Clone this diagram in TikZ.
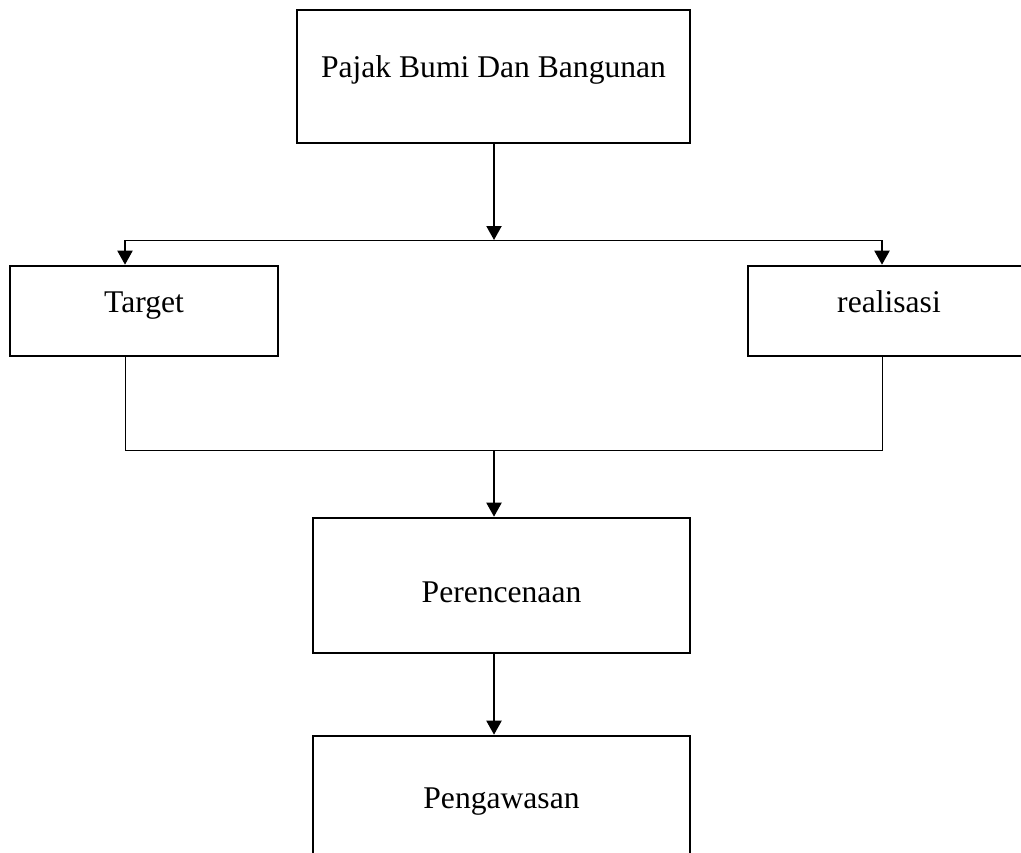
\documentclass[tikz,border=0pt]{standalone}
\usepackage{fontspec}
\setmainfont{Liberation Serif}
\usetikzlibrary{arrows.meta}

\begin{document}
\begin{tikzpicture}[x=0.5pt, y=-0.5pt,
    box/.style={draw, line width=1.3pt, inner sep=0pt, text height=11pt,
        font=\fontsize{15.8}{19}\selectfont},
    arr/.style={line width=1pt, -{Triangle[length=7pt, width=7.5pt]}},
    link/.style={line width=0.5pt}]
    \useasboundingbox (0,0) rectangle (1021,852);
    \clip (0,0) rectangle (1021,852);

    % Boxes
    \node[box, minimum width=196.5pt, minimum height=66.5pt, text depth=10.5pt]
        (pbb) at (493.5,76.5) {Pajak Bumi Dan Bangunan};
    \node[box, minimum width=134pt, minimum height=45pt, text depth=10pt]
        (target) at (144,311) {Target};
    \node[box, minimum width=141pt, minimum height=45pt, text depth=10pt]
        (realisasi) at (889,311) {realisasi};
    \node[box, minimum width=188.5pt, minimum height=67.5pt, text height=16.5pt, text depth=0pt]
        (perencanaan) at (501.5,585.5) {Perencenaan};
    \node[box, minimum width=188.5pt, minimum height=67pt, text depth=6pt]
        (pengawasan) at (501.5,803) {Pengawasan};

    % Branch points
    \coordinate (jt) at (494,240);
    \coordinate (tl) at (125,240);
    \coordinate (tr) at (882,240);
    \coordinate (bl) at (125,450);
    \coordinate (br) at (882,450);
    \coordinate (jb) at (494,450);

    % Top split
    \draw[arr] (pbb.south -| jt) -- (jt);
    \draw[link] (tl) -- (tr);
    \draw[arr] (tl) -- (tl |- target.north);
    \draw[arr] (tr) -- (tr |- realisasi.north);

    % Join below
    \draw[link] (target.south -| bl) -- (bl) -- (br) -- (realisasi.south -| br);
    \draw[arr] (jb) -- (jb |- perencanaan.north);
    \draw[arr] (perencanaan.south -| jb) -- (pengawasan.north -| jb);
\end{tikzpicture}
\end{document}
